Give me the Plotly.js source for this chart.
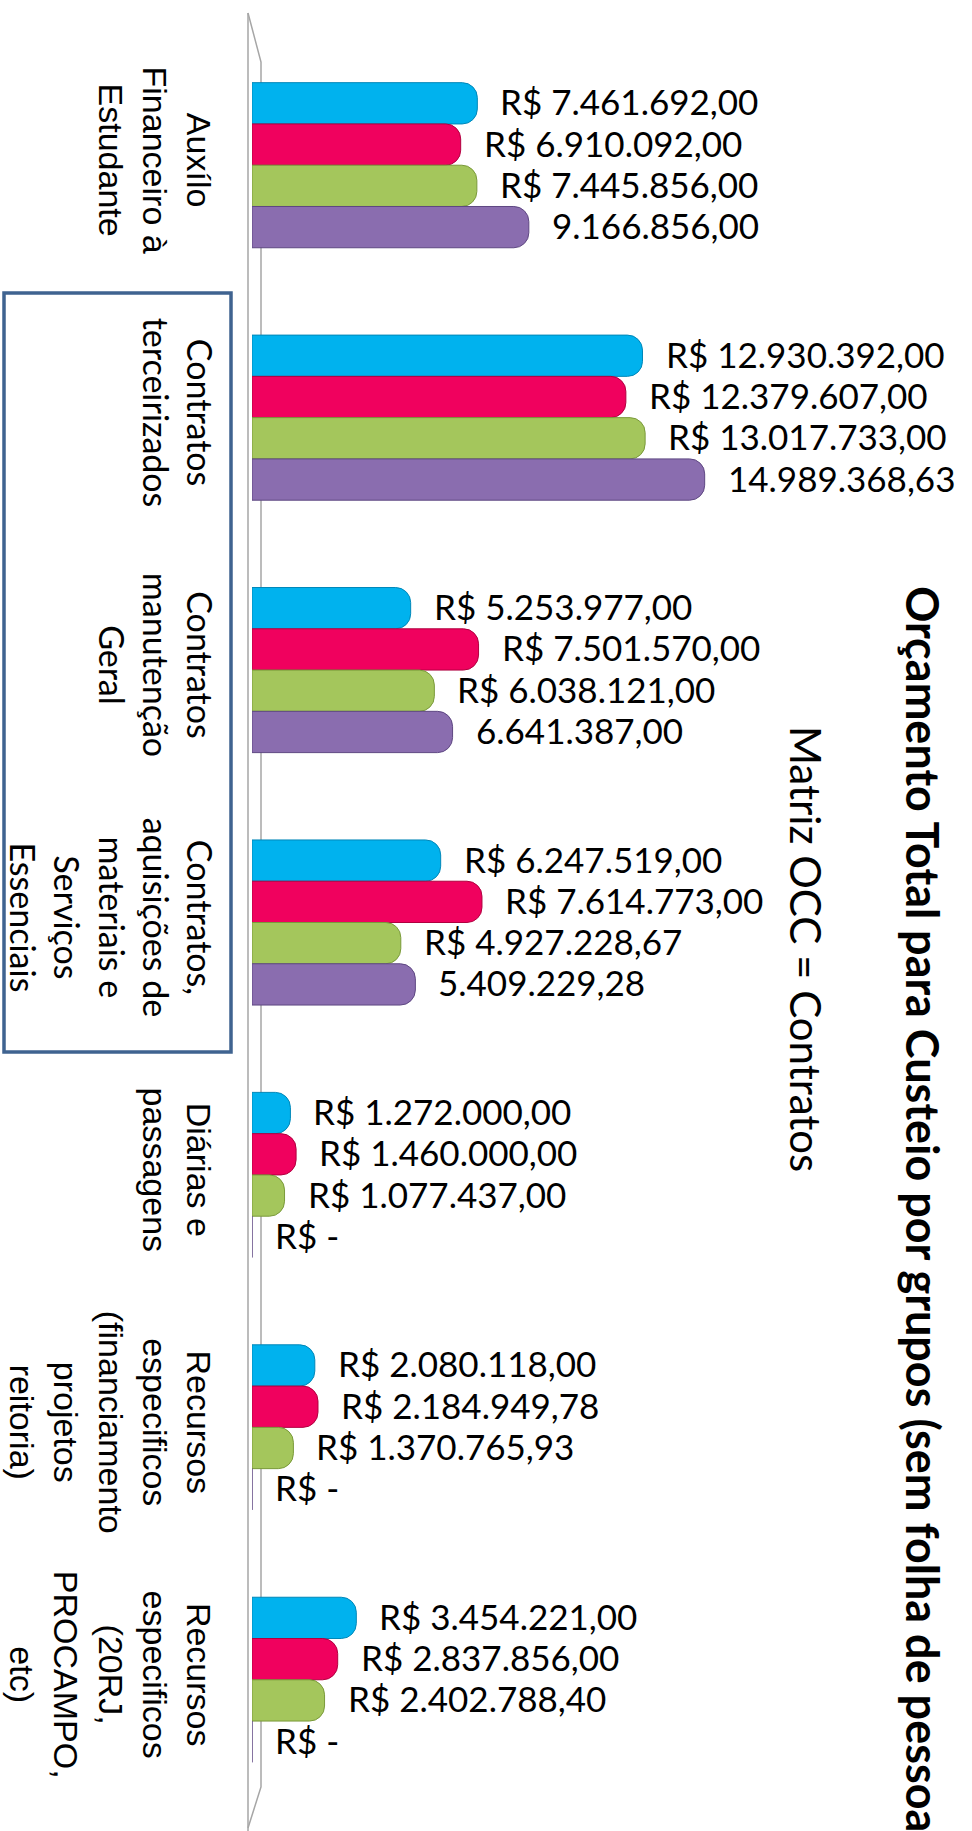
<!DOCTYPE html>
<html><head><meta charset="utf-8">
<script src="https://cdn.plot.ly/plotly-3.0.1.min.js"></script>
<style>html,body{margin:0;padding:0;background:#fff;}#chart{width:972px;height:1831px;}</style>
</head><body><div id="chart"></div>
<script>
// ---------- data ----------
const categories = [
  'Auxílo<br>Financeiro à<br>Estudante',
  'Contratos<br>terceirizados',
  'Contratos<br>manutenção<br>Geral',
  'Contratos,<br>aquisições de<br>materiais e<br>Serviços<br>Essenciais',
  'Diárias e<br>passagens',
  'Recursos<br>especificos<br>(financiamento<br>projetos<br>reitoria)',
  'Recursos<br>especificos<br>(20RJ,<br>PROCAMPO,<br>etc)'
];
const seriesNames = ['Série 1', 'Série 2', 'Série 3', 'Série 4'];
const serie1 = [7461692.00, 12930392.00, 5253977.00, 6247519.00, 1272000.00, 2080118.00, 3454221.00];
const serie2 = [6910092.00, 12379607.00, 7501570.00, 7614773.00, 1460000.00, 2184949.78, 2837856.00];
const serie3 = [7445856.00, 13017733.00, 6038121.00, 4927228.67, 1077437.00, 1370765.93, 2402788.40];
const serie4 = [9166856.00, 14989368.63, 6641387.00, 5409229.28, 0, 0, 0];
const labelPrefix = [true, true, true, false];
const boxedIndices = [1, 2, 3];
const titleText = 'Orçamento Total para Custeio por grupos (sem folha de pessoal)';
const subtitleText = 'Matriz OCC = Contratos';

// ---------- layout helpers ----------
const W = 972, H = 1831, L = 252, R = 0, T = 39, B = 25;
const PW = W - L - R, PH = H - T - B;
const pX = x => (x - L) / PW;
const pY = y => 1 - (y - T) / PH;
const PX_PER_REAL = 30.2e-6;
const XMAX = PW / PX_PER_REAL;
const BARGAP = 0.346;
const barW = (1 - BARGAP) / 4;

const colors = ['#00B2EE', '#F0015E', '#A4C65C', '#8A6DAF'];
const edges = ['#0087B8', '#B0003F', '#7A9A3A', '#5E4782'];

function fmtNum(v) {
  let [i, d] = Math.abs(v).toFixed(2).split('.');
  i = i.replace(/\B(?=(\d{3})+(?!\d))/g, '.');
  return i + ',' + d;
}
function fmtLabel(v, prefix) {
  if (v === 0) return 'R$ -';
  return (prefix ? 'R$ ' : '') + fmtNum(v);
}

const allSeries = [serie1, serie2, serie3, serie4];
const traces = allSeries.map((vals, i) => ({
  type: 'bar', orientation: 'h', name: seriesNames[i],
  x: vals, y: categories,
  marker: { color: colors[i], cornerradius: 15, line: { color: edges[i], width: 1 } },
  hoverinfo: 'x+y'
}));

const annotations = [];
allSeries.forEach((vals, i) => {
  vals.forEach((v, k) => {
    annotations.push({
      x: v, y: k + (i - 1.5) * barW, xref: 'x', yref: 'y',
      text: fmtLabel(v, labelPrefix[i]), showarrow: false,
      xanchor: 'left', yanchor: 'middle', xshift: 21, yshift: 2,
      font: { family: 'Lato, sans-serif', size: 35, color: '#000' }
    });
  });
});
annotations.push({
  xref: 'paper', yref: 'paper', x: pX(923), y: pY(584), xanchor: 'center', yanchor: 'top',
  text: '<b>' + titleText + '</b>', textangle: 90, showarrow: false,
  font: { family: 'Lato, sans-serif', size: 45, color: '#000' }
});
annotations.push({
  xref: 'paper', yref: 'paper', x: pX(806), y: pY(724), xanchor: 'center', yanchor: 'top',
  text: subtitleText, textangle: 90, showarrow: false,
  font: { family: 'Lato, sans-serif', size: 42, color: '#000' }
});

const ticktext = categories.map((c, k) => boxedIndices.includes(k)
  ? '<span style="font-family:Lato">' + c + '</span>' : c);

const axisCol = '#A6A6A6';
const shapes = [
  { type: 'line', xref: 'paper', yref: 'paper', x0: pX(248), x1: pX(248), y0: pY(13), y1: pY(1831),
    line: { color: axisCol, width: 1.5 }, layer: 'below' },
  { type: 'path', xref: 'paper', yref: 'paper',
    path: `M ${pX(248)} ${pY(13)} L ${pX(261)} ${pY(62)} L ${pX(261)} ${pY(1787)} L ${pX(248)} ${pY(1828)}`,
    line: { color: axisCol, width: 1.5 }, layer: 'below' },
  { type: 'rect', xref: 'paper', yref: 'paper', x0: pX(4), x1: pX(231), y0: pY(293), y1: pY(1052),
    line: { color: '#3F6390', width: 3.5 }, fillcolor: 'rgba(0,0,0,0)', layer: 'above' }
];

const layout = {
  width: W, height: H,
  margin: { l: L, r: R, t: T, b: B, pad: 0 },
  paper_bgcolor: '#fff', plot_bgcolor: 'rgba(0,0,0,0)',
  barmode: 'group', bargap: BARGAP, bargroupgap: 0,
  showlegend: false,
  xaxis: { range: [0, XMAX], visible: false, fixedrange: true },
  yaxis: {
    type: 'category', autorange: 'reversed', tickmode: 'array', tickvals: categories, ticktext: ticktext,
    tickangle: 90, ticks: '', showline: false, showgrid: false, zeroline: false,
    ticklabelstandoff: 30,
    tickfont: { family: 'Liberation Sans, Arial, sans-serif', size: 34, color: '#000' }
  },
  annotations: annotations, shapes: shapes
};

Plotly.newPlot('chart', traces, layout, { displayModeBar: false, staticPlot: true });
</script></body></html>
